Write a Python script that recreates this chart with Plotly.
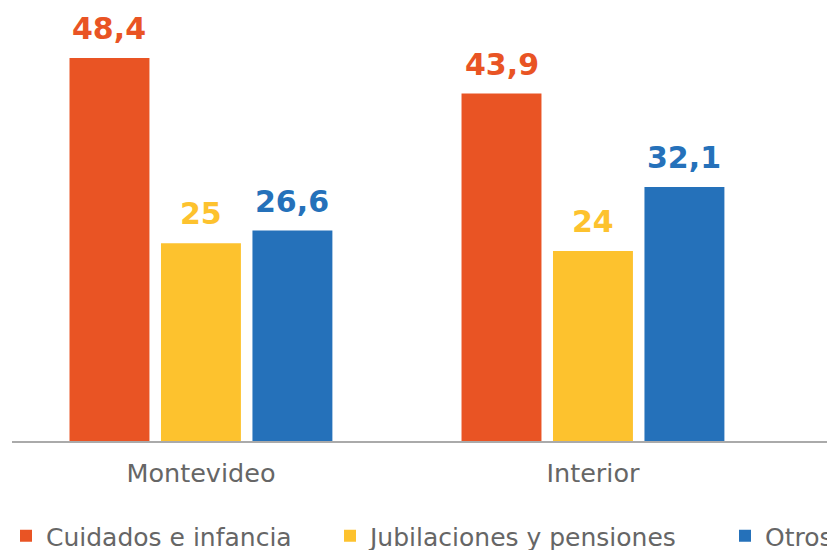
import plotly.graph_objects as go

categories = ["Montevideo", "Interior"]
series_names = ["Cuidados e infancia", "Jubilaciones y pensiones", "Otros"]
cuidados = [48.4, 43.9]
jubilaciones = [25, 24]
otros = [26.6, 32.1]
label_cuidados = ["48,4", "43,9"]
label_jubilaciones = ["25", "24"]
label_otros = ["26,6", "32,1"]

colors = ["#E95424", "#FDC22E", "#2571BA"]
values = [cuidados, jubilaciones, otros]
labels = [label_cuidados, label_jubilaciones, label_otros]
legend_ids = ["legend", "legend2", "legend3"]
legend_x = [6 / 827, 330 / 827, 725 / 827]

fig = go.Figure()
for name, vals, col, lg in zip(series_names, values, colors, legend_ids):
    fig.add_trace(go.Bar(x=categories, y=vals, name=name, marker_color=col,
                         marker_line_width=0, legend=lg))

# value labels via annotations placed on data coordinates
offsets = [-1, 0, 1]
slot = 0.7 / 3
for vals, labs, col, off in zip(values, labels, colors, offsets):
    for i, (v, t) in enumerate(zip(vals, labs)):
        fig.add_annotation(x=i + off * slot, y=v, text=t, showarrow=False,
                           xref="x", yref="y", yanchor="bottom", yshift=10,
                           font=dict(family="DejaVu Sans", size=30, color=col,
                                     weight="bold"))

legend_common = dict(orientation="h", xref="container", xanchor="left",
                     yref="container", y=14 / 550, yanchor="middle",
                     bgcolor="rgba(0,0,0,0)",
                     font=dict(family="DejaVu Sans", size=25, color="#666666"))

fig.update_layout(
    width=827, height=550,
    margin=dict(l=12, r=0, t=0, b=109, autoexpand=False),
    paper_bgcolor="white", plot_bgcolor="white",
    barmode="group", bargap=0.3, bargroupgap=0.126,
    showlegend=True,
    legend=dict(x=legend_x[0], **legend_common),
    legend2=dict(x=legend_x[1], **legend_common),
    legend3=dict(x=legend_x[2], **legend_common),
    xaxis=dict(type="category", range=[-0.482, 1.597], showline=True,
               linecolor="#AAAAAA", linewidth=2, showgrid=False, ticks="",
               ticklabelstandoff=8, automargin=False,
               tickfont=dict(family="DejaVu Sans", size=25.5, color="#666666")),
    yaxis=dict(range=[0, 55.73], visible=False, showgrid=False, automargin=False),
)

fig.write_html("out.html", config={"displayModeBar": False},
               post_script="document.body.style.margin='0';")
